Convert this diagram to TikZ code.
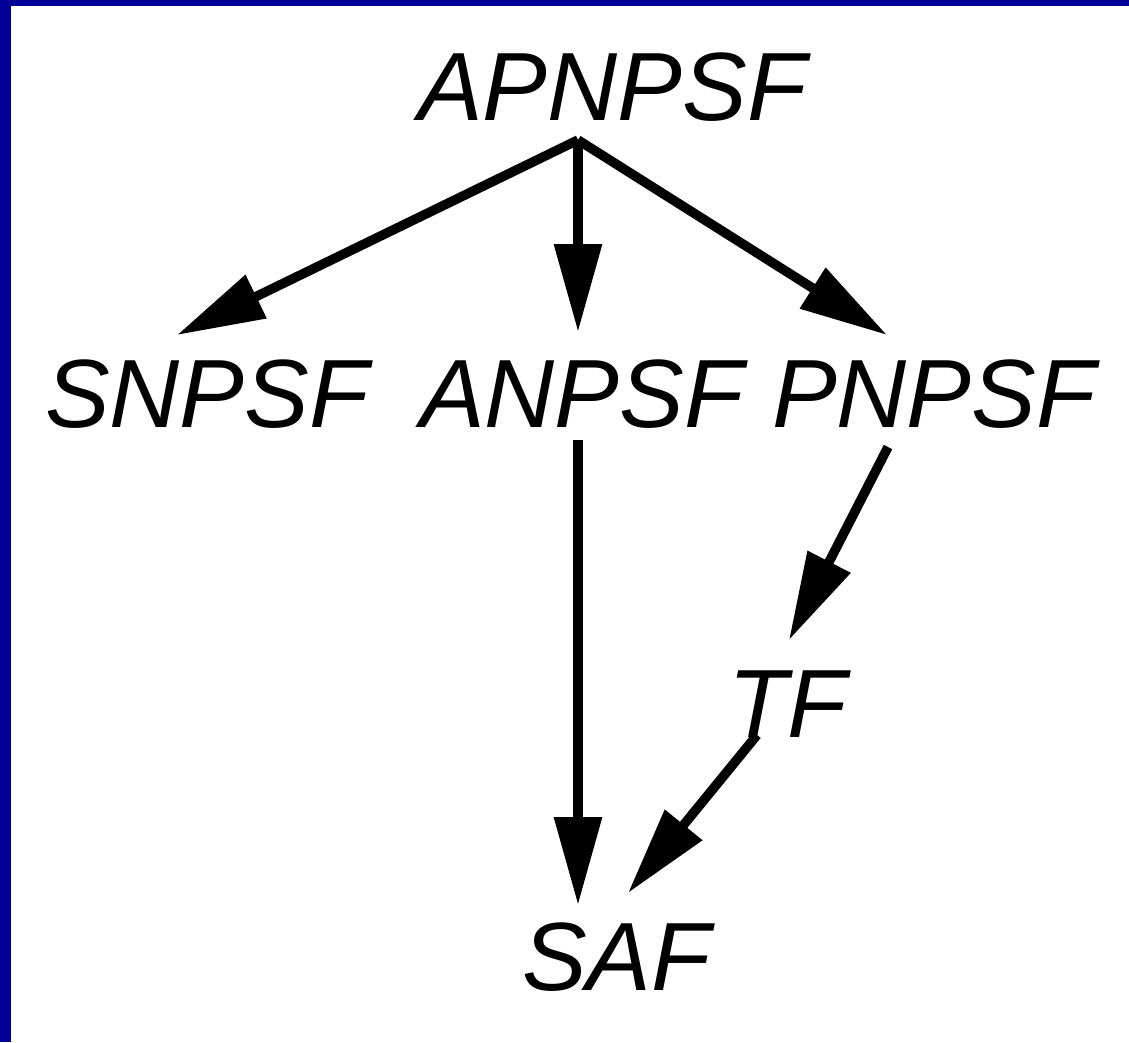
\documentclass[tikz,border=0pt]{standalone}
\usepackage{fontspec}
\setmainfont{Liberation Sans}
\usetikzlibrary{arrows.meta}
\definecolor{frameblue}{HTML}{000099}
\begin{document}
\begin{tikzpicture}[x=1pt,y=-1pt,
  lbl/.style={inner sep=0pt,anchor=base west,font=\fontsize{97}{110}\selectfont\itshape},
  arr/.style={line width=9.5pt,-{Triangle[length=88pt,width=46pt]}}]
\useasboundingbox (0,0) rectangle (1129,1042);
\fill[white] (0,0) rectangle (1129,1042);
\fill[frameblue] (0,0) rectangle (1129,6);
\fill[frameblue] (0,0) rectangle (11,1042);
% labels
\node[lbl] (apnpsf) at (418,120) {APNPSF};
\node[lbl] (snpsf) at (45,427) {SNPSF};
\node[lbl] (anpsf) at (420,427) {ANPSF};
\node[lbl] (pnpsf) at (772,427) {PNPSF};
\node[lbl] (tf) at (728,737) {TF};
\node[lbl] (saf) at (522,990) {SAF};
% connector ends
\coordinate (apex) at (578,140);
\coordinate (tipS) at (177,335);
\coordinate (tipA) at (578,332);
\coordinate (tipP) at (887,335);
\coordinate (anpsfBot) at (578,440);
\coordinate (safTop) at (578,905);
\coordinate (pnpsfBot) at (888,447);
\coordinate (tfTop) at (789,640);
\coordinate (tfBot) at (757,735);
\coordinate (safRight) at (628,893);
\draw[arr] (apex) -- (tipS);
\draw[arr] (apex) -- (tipA);
\draw[arr] (apex) -- (tipP);
\draw[arr] (anpsfBot) -- (safTop);
\draw[arr] (pnpsfBot) -- (tfTop);
\draw[arr] (tfBot) -- (safRight);
\end{tikzpicture}
\end{document}
